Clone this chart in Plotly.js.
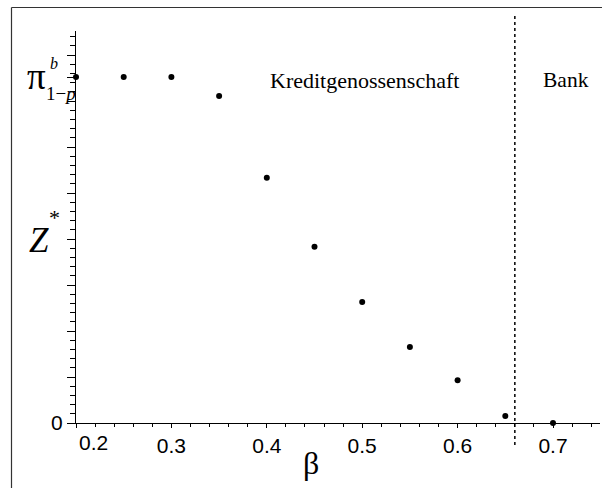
<!DOCTYPE html>
<html>
<head>
<meta charset="utf-8">
<script src="https://cdn.plot.ly/plotly-3.0.1.min.js"></script>
<style>html,body{margin:0;padding:0;background:#fff;}#chart{width:602px;height:488px;}</style>
</head>
<body>
<div id="chart"></div>
<script>
// ---- data ----
const beta = [0.2, 0.25, 0.3, 0.35, 0.4, 0.45, 0.5, 0.55, 0.6, 0.65, 0.7];
const zStar = [0.752, 0.752, 0.752, 0.711, 0.533, 0.383, 0.263, 0.165, 0.093, 0.015, 0.0];
const piValue = 0.752;          // level of pi^b_{1-p}
const boundary = 0.66;          // Kreditgenossenschaft | Bank
const xTickVals = [0.2, 0.3, 0.4, 0.5, 0.6, 0.7];
const xTickText = ["", "0.3", "0.4", "0.5", "0.6", "0.7"];
const firstXLabel = "0.2";
const yMajorVals = [0, 0.1, 0.2, 0.3, 0.4, 0.5, 0.6, 0.7, 0.8];
const regionLabels = ["Kreditgenossenschaft", "Bank"];

// ---- layout helpers ----
const W = 602, H = 488;
const M = {l: 76, r: 2, t: 31, b: 65};
const pw = W - M.l - M.r, ph = H - M.t - M.b;
const px = x => (x - M.l) / pw;
const py = y => (H - M.b - y) / ph;

const serif = "Liberation Serif, Times New Roman, serif";
const sans = "Liberation Sans, Arial, Helvetica, sans-serif";

const yTickVals = yMajorVals.concat([piValue]);
const yTickText = yTickVals.map(v => v === 0 ? "0" : "");

const trace = {
  x: beta, y: zStar, type: "scatter", mode: "markers",
  marker: {color: "#000", size: 6, symbol: "circle"},
  cliponaxis: false, hoverinfo: "skip"
};

const layout = {
  width: W, height: H,
  margin: M,
  paper_bgcolor: "#fff", plot_bgcolor: "#fff",
  showlegend: false,
  xaxis: {
    range: [0.2, 0.2 + pw / 954],
    showgrid: false, zeroline: false,
    showline: true, linecolor: "#000", linewidth: 1,
    tickmode: "array", tickvals: xTickVals, ticktext: xTickText,
    ticks: "outside", ticklen: 4, tickcolor: "#000", tickwidth: 1,
    minor: {tickmode: "linear", tick0: 0, dtick: 0.02, ticks: "outside", ticklen: 3, tickcolor: "#000", showgrid: false},
    tickfont: {family: sans, size: 21, color: "#000"},
    ticklabelstandoff: 0
  },
  yaxis: {
    range: [0, ph / 460],
    showgrid: false, zeroline: false,
    showline: true, linecolor: "#000", linewidth: 1,
    tickmode: "array", tickvals: yTickVals, ticktext: yTickText,
    ticks: "outside", ticklen: 8, tickcolor: "#000", tickwidth: 1,
    minor: {tickmode: "linear", tick0: 0, dtick: 0.02, ticks: "outside", ticklen: 5, tickcolor: "#000", showgrid: false},
    tickfont: {family: sans, size: 21, color: "#000"},
    ticklabelstandoff: 0
  },
  shapes: [
    {type: "line", xref: "paper", yref: "paper", x0: px(11.5), x1: px(11.5), y0: py(7.5), y1: py(500),
     line: {color: "#333", width: 1.2}},
    {type: "line", xref: "paper", yref: "paper", x0: px(11.5), x1: px(610), y0: py(7.5), y1: py(7.5),
     line: {color: "#333", width: 1.2}},
    {type: "line", xref: "x", yref: "paper", x0: boundary, x1: boundary, y0: py(445), y1: py(16),
     line: {color: "#000", width: 1.5, dash: "dot"}}
  ],
  annotations: [
    {xref: "paper", yref: "paper", x: px(93), y: py(442), text: firstXLabel, showarrow: false,
     font: {family: sans, size: 21, color: "#000"}, xanchor: "center", yanchor: "middle"},
    {xref: "paper", yref: "paper", x: px(36.5), y: py(77), text: "π", showarrow: false,
     font: {family: serif, size: 37, color: "#000"}, xanchor: "center", yanchor: "middle"},
    {xref: "paper", yref: "paper", x: px(54), y: py(64), text: "<i>b</i>", showarrow: false,
     font: {family: serif, size: 16, color: "#000"}, xanchor: "center", yanchor: "middle"},
    {xref: "paper", yref: "paper", x: px(61), y: py(93), text: "1−<i>p</i>", showarrow: false,
     font: {family: serif, size: 19, color: "#000"}, xanchor: "center", yanchor: "middle"},
    {xref: "paper", yref: "paper", x: px(39), y: py(240), text: "<i>Z</i>", showarrow: false,
     font: {family: serif, size: 35, color: "#000"}, xanchor: "center", yanchor: "middle"},
    {xref: "paper", yref: "paper", x: px(54), y: py(217), text: "*", showarrow: false,
     font: {family: serif, size: 22, color: "#000"}, xanchor: "center", yanchor: "middle"},
    {xref: "paper", yref: "paper", x: px(311), y: py(463), text: "β", showarrow: false,
     font: {family: serif, size: 32, color: "#000"}, xanchor: "center", yanchor: "middle"},
    {xref: "paper", yref: "paper", x: px(364), y: py(80), text: regionLabels[0], showarrow: false,
     font: {family: serif, size: 22, color: "#000"}, xanchor: "center", yanchor: "middle"},
    {xref: "paper", yref: "paper", x: px(566), y: py(80), text: regionLabels[1], showarrow: false,
     font: {family: serif, size: 21.5, color: "#000"}, xanchor: "center", yanchor: "middle"}
  ]
};

Plotly.newPlot("chart", [trace], layout, {staticPlot: true, displayModeBar: false});
</script>
</body>
</html>
